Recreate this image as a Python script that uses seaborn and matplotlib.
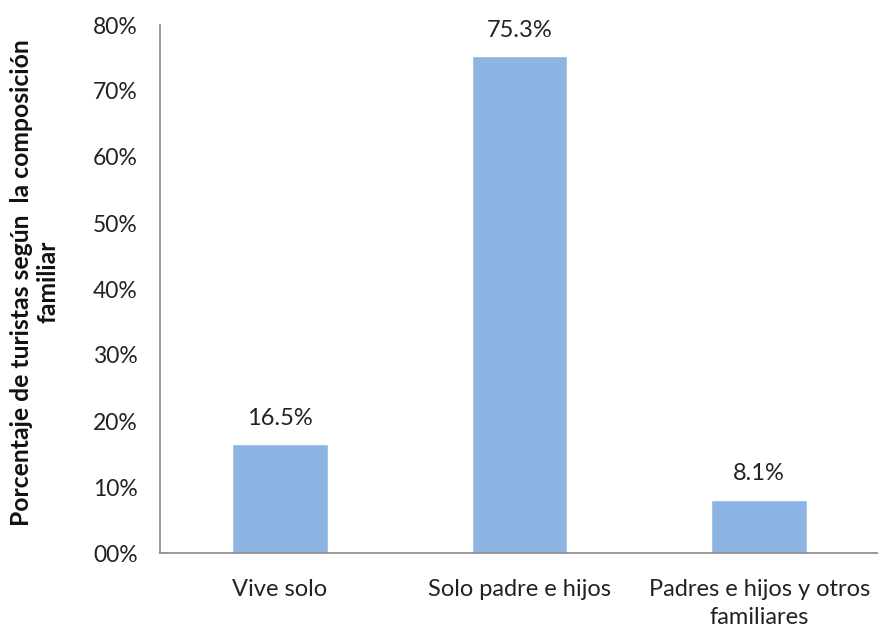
import matplotlib
matplotlib.use("Agg")
import matplotlib.pyplot as plt
import seaborn as sns
import pandas as pd

categories = ["Vive solo", "Solo padre e hijos", "Padres e hijos y otros\nfamiliares"]
values = [16.5, 75.3, 8.1]
value_labels = ["16.5%", "75.3%", "8.1%"]
yticks = [0, 10, 20, 30, 40, 50, 60, 70, 80]
ytick_labels = ["00%", "10%", "20%", "30%", "40%", "50%", "60%", "70%", "80%"]

sns.set_theme(style="white")
plt.rcParams['font.family'] = ['Lato', 'DejaVu Sans']

df = pd.DataFrame({"cat": categories, "val": values})

fig = plt.figure(figsize=(8.79, 6.29), dpi=100)
ax = fig.add_axes([160 / 879, 1 - 553 / 629, 719 / 879, 528 / 629])
sns.barplot(data=df, x="cat", y="val", color="#8EB4E3", width=0.4, ax=ax, saturation=1)

ax.set_ylim(0, 80)
ax.set_xlim(-0.5, 2.5)
ax.set_yticks(yticks)
ax.set_yticklabels(ytick_labels, fontsize=16.5, color="#222222")
ax.tick_params(axis="x", labelsize=17, colors="#222222", length=0, pad=19)
ax.tick_params(axis="y", length=0, pad=16)
for lab in ax.get_xticklabels():
    lab.set_linespacing(1.4)

for s in ["top", "right"]:
    ax.spines[s].set_visible(False)
for s in ["left", "bottom"]:
    ax.spines[s].set_color("#898989")
    ax.spines[s].set_linewidth(1.2)

for i, (v, t) in enumerate(zip(values, value_labels)):
    ax.annotate(t, (i, v), xytext=(0, 11), textcoords="offset points",
                ha="center", va="bottom", fontsize=17, color="#222222")

ax.set_xlabel("")
ax.set_ylabel("Porcentaje de turistas según  la composición\nfamiliar",
              fontsize=17.8, fontweight="bold", color="#111111", linespacing=1.2)
ax.yaxis.set_label_coords(-0.14, 0.513)

fig.savefig("out.png", dpi=100)
